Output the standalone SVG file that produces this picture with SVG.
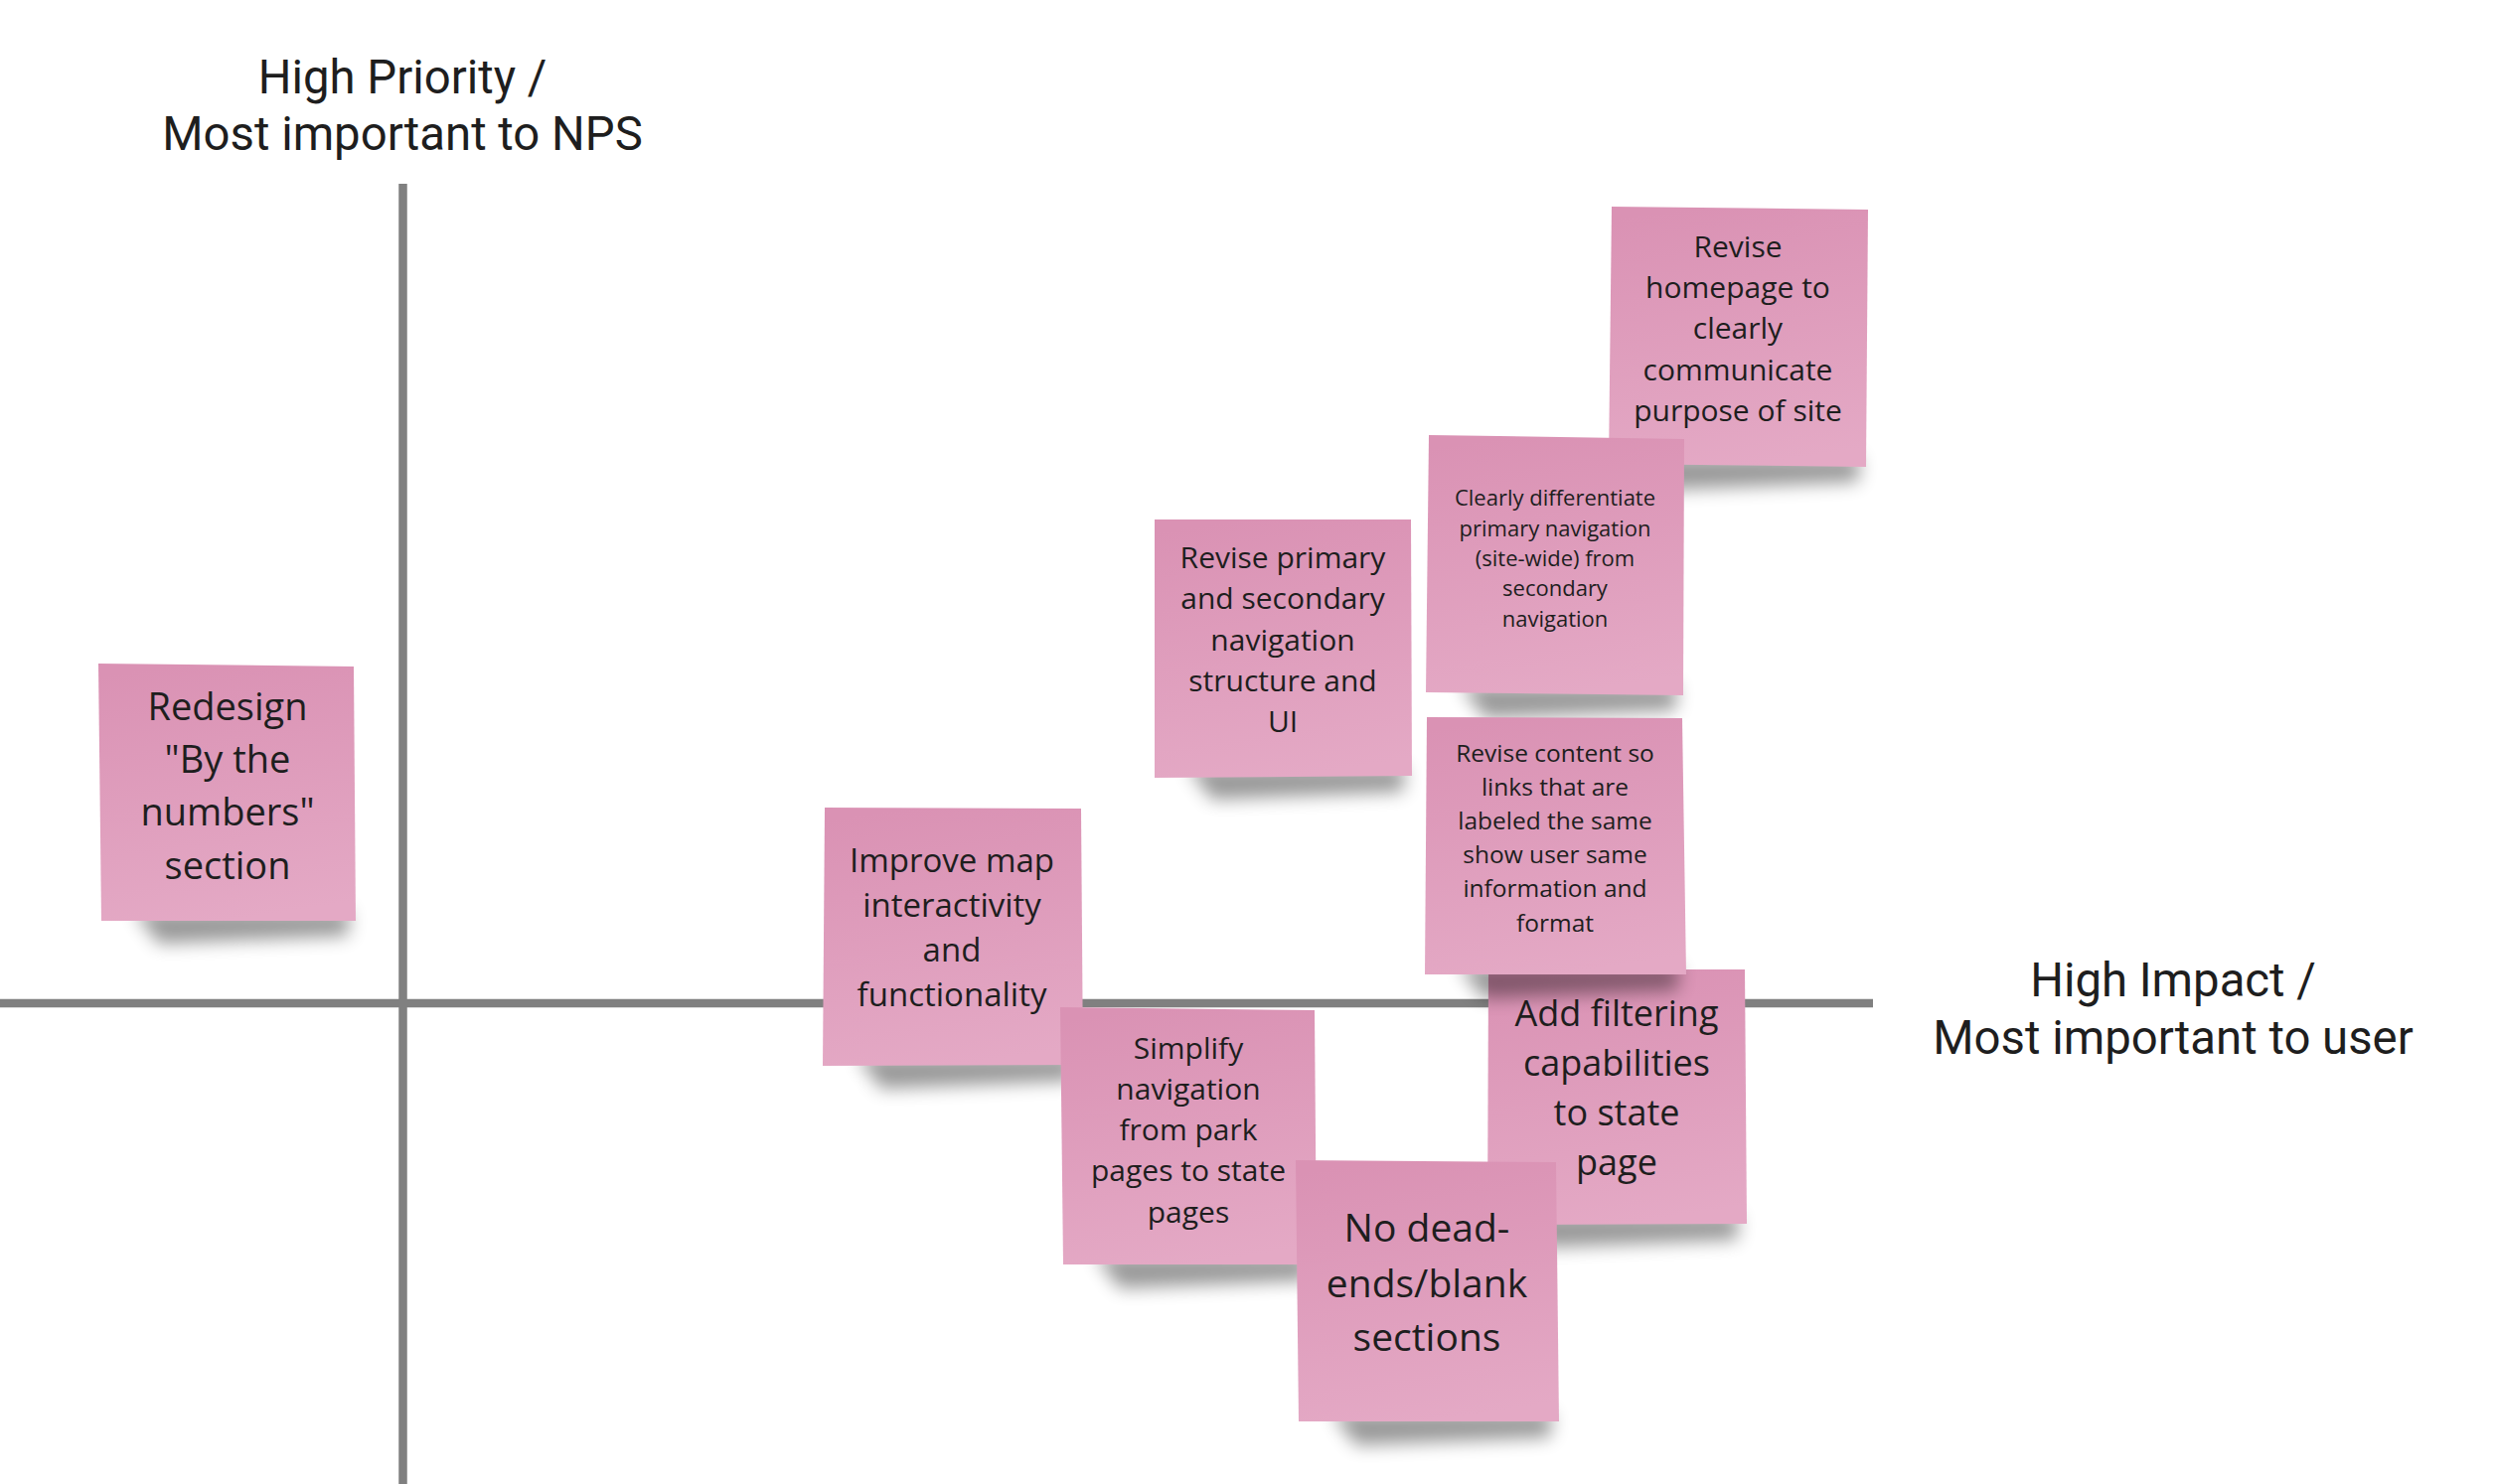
<svg xmlns="http://www.w3.org/2000/svg" width="2512" height="1494" viewBox="0 0 2512 1494">
<style>
.axis{stroke:#808080;stroke-width:8.5;fill:none}
.lbl{font-family:Roboto,"Liberation Sans",sans-serif;font-size:47.3px;fill:#1e1e1e;text-anchor:middle}
.note{fill:url(#pink)}
.sh{fill:#000;opacity:.4;filter:url(#blur)}
.t{font-family:"Open Sans","Noto Sans","Liberation Sans",sans-serif;fill:#1e1e1e;text-anchor:middle}
</style>
<defs>
<linearGradient id="pink" x1="0.35" y1="0" x2="0.5" y2="1">
<stop offset="0" stop-color="#DA92B4"/>
<stop offset="1" stop-color="#E4A9C5"/>
</linearGradient>
<filter id="blur" x="-20%" y="-100%" width="140%" height="300%">
<feGaussianBlur stdDeviation="9"/>
</filter>
</defs>
<rect width="2512" height="1494" fill="#ffffff"/>
<g id="connectors">
<line class="axis" x1="405.5" y1="185" x2="405.5" y2="1494"/>
<line class="axis" x1="0" y1="1010" x2="1885" y2="1010"/>
</g>
<g id="label-priority">
<text class="lbl" x="405" y="94">High Priority /</text>
<text class="lbl" x="405" y="151">Most important to NPS</text>
</g>
<g id="label-impact">
<text class="lbl" x="2187" y="1003">High Impact /</text>
<text class="lbl" x="2187" y="1061">Most important to user</text>
</g>
<g id="note-redesign">
<polygon class="sh" points="135,917 352,917 350,942 160,950"/>
<polygon class="note" points="99,668 356,671 358,927 102,927"/>
<g class="t" font-size="38">
<text x="229" y="725">Redesign</text>
<text x="229" y="778">"By the</text>
<text x="229" y="831">numbers"</text>
<text x="229" y="885">section</text>
</g>
</g>
<g id="note-homepage">
<polygon class="sh" points="1655,460 1872,460 1870,485 1680,493"/>
<polygon class="note" points="1622,208 1880,211 1878,470 1619,467"/>
<g class="t" font-size="30">
<text x="1749" y="259">Revise</text>
<text x="1749" y="300">homepage to</text>
<text x="1749" y="341">clearly</text>
<text x="1749" y="382.5">communicate</text>
<text x="1749" y="424">purpose of site</text>
</g>
</g>
<g id="note-differentiate">
<polygon class="sh" points="1470,690 1688,690 1686,715 1495,723"/>
<polygon class="note" points="1438,438 1695,442 1694,700 1435,697"/>
<g class="t" font-size="22">
<text x="1565" y="509">Clearly differentiate</text>
<text x="1565" y="539.5">primary navigation</text>
<text x="1565" y="570">(site-wide) from</text>
<text x="1565" y="600">secondary</text>
<text x="1565" y="630.5">navigation</text>
</g>
</g>
<g id="note-revise-primary">
<polygon class="sh" points="1195,772 1414,772 1412,797 1220,805"/>
<polygon class="note" points="1162,523 1420,523 1421,781 1162,783"/>
<g class="t" font-size="30">
<text x="1291" y="572">Revise primary</text>
<text x="1291" y="613">and secondary</text>
<text x="1291" y="655">navigation</text>
<text x="1291" y="696">structure and</text>
<text x="1291" y="737">UI</text>
</g>
</g>
<g id="note-map">
<polygon class="sh" points="862,1063 1082,1063 1080,1088 887,1096"/>
<polygon class="note" points="830,813 1088,814 1090,1072 828,1073"/>
<g class="t" font-size="33">
<text x="958" y="878">Improve map</text>
<text x="958" y="923">interactivity</text>
<text x="958" y="968">and</text>
<text x="958" y="1013">functionality</text>
</g>
</g>
<g id="note-simplify">
<polygon class="sh" points="1102,1264 1318,1264 1316,1289 1127,1297"/>
<polygon class="note" points="1067,1014 1323,1017 1325,1273 1070,1273"/>
<g class="t" font-size="30">
<text x="1196" y="1066">Simplify</text>
<text x="1196" y="1107">navigation</text>
<text x="1196" y="1148">from park</text>
<text x="1196" y="1189">pages to state</text>
<text x="1196" y="1231">pages</text>
</g>
</g>
<g id="note-filtering">
<polygon class="sh" points="1530,1223 1750,1223 1748,1248 1555,1256"/>
<polygon class="note" points="1498,976 1756,976 1758,1232 1497,1233"/>
<g class="t" font-size="36">
<text x="1627" y="1033">Add filtering</text>
<text x="1627" y="1083">capabilities</text>
<text x="1627" y="1133">to state</text>
<text x="1627" y="1183">page</text>
</g>
</g>
<g id="note-content">
<polygon class="sh" points="1468,972 1690,972 1688,997 1493,1005"/>
<polygon class="note" points="1436,722 1693,723 1697,981 1434,981"/>
<g class="t" font-size="24.5">
<text x="1565" y="767">Revise content so</text>
<text x="1565" y="801">links that are</text>
<text x="1565" y="835">labeled the same</text>
<text x="1565" y="869">show user same</text>
<text x="1565" y="903">information and</text>
<text x="1565" y="938">format</text>
</g>
</g>
<g id="note-deadends">
<polygon class="sh" points="1340,1422 1562,1422 1560,1447 1365,1455"/>
<polygon class="note" points="1304,1168 1566,1170 1569,1431 1307,1431"/>
<g class="t" font-size="39">
<text x="1436" y="1250">No dead-</text>
<text x="1436" y="1306">ends/blank</text>
<text x="1436" y="1360">sections</text>
</g>
</g>
</svg>
